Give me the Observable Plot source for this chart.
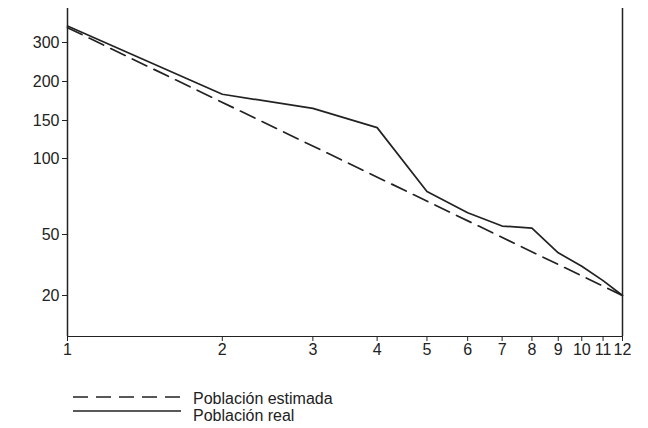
<!DOCTYPE html>
<html><head><meta charset="utf-8">
<script src="https://cdn.jsdelivr.net/npm/d3@7"></script>
<script src="https://cdn.jsdelivr.net/npm/@observablehq/plot@0.6"></script>
<style>
html,body{margin:0;padding:0;background:#fff;}
body{width:648px;height:428px;overflow:hidden;font-family:"Liberation Sans",Arial,sans-serif;}
#legend{display:block;}
</style></head><body>
<div id="chart"></div>
<div id="legend"></div>
<script>
// ---- data ----
const ranks = [1, 2, 3, 4, 5, 6, 7, 8, 9, 10, 11, 12];
const realPop = [356, 182, 164, 139, 74, 61, 54, 53, 38, 31, 25, 20];
const estRanks = [1, 12];
const estPop = [350, 20];
const xTicks = [1, 2, 3, 4, 5, 6, 7, 8, 9, 10, 11, 12];
const yTicks = [20, 50, 100, 150, 200, 300];
const seriesNames = ["Población estimada", "Población real"];

const realData = ranks.map((r, i) => ({rank: r, pop: realPop[i]}));
const estData = estRanks.map((r, i) => ({rank: r, pop: estPop[i]}));

const ink = "#222";

const chart = Plot.plot({
  width: 648,
  height: 370,
  marginLeft: 67,
  marginRight: 26,
  marginTop: 8,
  marginBottom: 34,
  style: {fontFamily: "'Liberation Sans', Arial, sans-serif", fontSize: "16px", color: ink, background: "#fff"},
  x: {type: "log", domain: [1, 12]},
  // the printed value axis is irregularly spaced: piecewise log scale through its tick marks
  y: {type: "log", domain: [10.8, 20, 50, 100, 150, 200, 300, 427], range: [336, 295, 234, 158, 120, 81, 42, 8]},
  marks: [
    Plot.ruleX([1], {stroke: ink, strokeWidth: 1.5}),
    Plot.ruleX([12], {stroke: ink, strokeWidth: 1.5}),
    Plot.ruleY([10.8], {stroke: ink, strokeWidth: 1.2}),
    Plot.axisX({ticks: xTicks, tickFormat: d => String(d), tickSize: 5, tickPadding: 2, label: null, fontSize: 16}),
    Plot.axisY({ticks: yTicks, tickFormat: d => String(d), tickSize: 5, tickPadding: 3, label: null, fontSize: 16}),
    Plot.line(estData, {x: "rank", y: "pop", stroke: ink, strokeWidth: 1.7, strokeDasharray: "16,8"}),
    Plot.line(realData, {x: "rank", y: "pop", stroke: ink, strokeWidth: 1.7})
  ]
});
document.getElementById("chart").appendChild(chart);

// ---- legend (below the plot) ----
const NS = "http://www.w3.org/2000/svg";
const lg = document.createElementNS(NS, "svg");
lg.setAttribute("width", 648);
lg.setAttribute("height", 58);
const rows = [
  {name: seriesNames[0], dash: "15,8", ly: 27, ty: 34},
  {name: seriesNames[1], dash: null, ly: 41, ty: 51}
];
rows.forEach(r => {
  const l = document.createElementNS(NS, "line");
  l.setAttribute("x1", 73); l.setAttribute("x2", 181);
  l.setAttribute("y1", r.ly); l.setAttribute("y2", r.ly);
  l.setAttribute("stroke", ink); l.setAttribute("stroke-width", 1.4);
  if (r.dash) l.setAttribute("stroke-dasharray", r.dash);
  lg.appendChild(l);
  const t = document.createElementNS(NS, "text");
  t.setAttribute("x", 193); t.setAttribute("y", r.ty);
  t.setAttribute("font-family", "'Liberation Sans', Arial, sans-serif");
  t.setAttribute("font-size", 16);
  t.setAttribute("fill", ink);
  t.textContent = r.name;
  lg.appendChild(t);
});
document.getElementById("legend").appendChild(lg);
</script>
</body></html>
